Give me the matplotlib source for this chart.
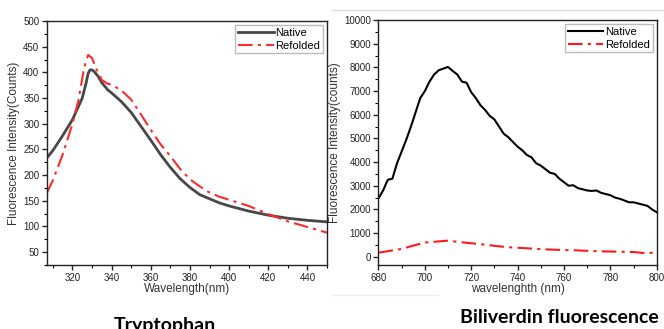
import matplotlib.pyplot as plt
from matplotlib.lines import Line2D
from matplotlib.ticker import MultipleLocator

plt.rcParams['font.family'] = ['Liberation Sans', 'DejaVu Sans']

# Tryptophan emission
trp_wl = [307, 310, 315, 320, 325, 327, 328, 329, 330, 331, 333, 335, 338, 340, 345, 350, 355,
          360, 365, 370, 375, 380, 385, 390, 395, 400, 410, 420, 430, 440, 450]
trp_native = [234, 248, 277, 308, 350, 380, 398, 405, 405, 402, 393, 380, 366, 360, 343, 322, 295,
              268, 240, 215, 193, 176, 162, 154, 146, 140, 130, 122, 116, 112, 109]
trp_wl_ref = [307, 310, 315, 320, 323, 326, 328, 330, 332, 335, 338, 340, 345, 350, 355,
              360, 365, 370, 375, 380, 385, 390, 395, 400, 410, 420, 430, 440, 450]
trp_refolded = [166, 190, 240, 300, 345, 410, 434, 428, 408, 385, 378, 376, 365, 347, 318,
                288, 260, 237, 212, 192, 178, 166, 158, 152, 140, 124, 110, 99, 88]

# Biliverdin emission
bv_wl = [680, 682, 684, 686, 688, 690, 692, 694, 696, 698, 700, 702, 704, 706, 708,
         710, 712, 714, 716, 718, 720, 722, 724, 726, 728, 730, 732, 734, 736, 738,
         740, 742, 744, 746, 748, 750, 752, 754, 756, 758, 760, 762, 764, 766, 768,
         770, 772, 774, 776, 778, 780, 782, 784, 786, 788, 790, 792, 794, 796, 798, 800]
bv_native = [2470, 2800, 3250, 3300, 3950, 4450, 4950, 5500, 6100, 6700, 7000, 7400, 7700, 7880, 7950,
             8020, 7850, 7700, 7400, 7350, 6950, 6700, 6400, 6200, 5950, 5800, 5500, 5200, 5050, 4850,
             4650, 4500, 4300, 4200, 3950, 3850, 3700, 3550, 3500, 3300, 3150, 3000, 3020, 2900, 2850,
             2800, 2780, 2800, 2700, 2650, 2600, 2500, 2450, 2380, 2300, 2300, 2250, 2200, 2150, 2000, 1880]
bv_wl_ref = [680, 685, 690, 695, 700, 705, 710, 715, 720, 725, 730, 735, 740, 745, 750,
             755, 760, 765, 770, 775, 780, 785, 790, 795, 800]
bv_refolded = [170, 250, 330, 470, 600, 640, 680, 620, 570, 520, 460, 410, 380, 350, 320,
               300, 280, 270, 250, 230, 220, 210, 200, 150, 180]

dashdot = (0, (7, 2.5, 1.5, 2.5))

fig = plt.figure(figsize=(6.64, 3.29), dpi=100)
ax1 = fig.add_axes([0.0708, 0.1945, 0.4217, 0.7415])
ax2 = fig.add_axes([0.570, 0.1945, 0.419, 0.7445])

ax1.plot(trp_wl, trp_native, color='#484848', lw=2.0, label='Native')
ax1.plot(trp_wl_ref, trp_refolded, color='#ff2a2a', lw=1.5, ls=dashdot, label='Refolded')
ax1.set_xlim(307, 450)
ax1.set_ylim(25, 500)
ax1.xaxis.set_major_locator(MultipleLocator(20))
ax1.xaxis.set_minor_locator(MultipleLocator(10))
ax1.set_yticks(range(50, 501, 50))
ax1.yaxis.set_minor_locator(MultipleLocator(25))
ax1.set_xlabel('Wavelength(nm)', fontsize=8.5, color='#333333', labelpad=0)
ax1.set_ylabel('Fluorescence Intensity(Counts)', fontsize=8.5, color='#333333', labelpad=2)

ax2.plot(bv_wl, bv_native, color='black', lw=1.5, label='Native')
ax2.plot(bv_wl_ref, bv_refolded, color='#ff1a1a', lw=1.5, ls=dashdot, label='Refolded')
ax2.set_xlim(680, 800)
ax2.set_ylim(-350, 10000)
ax2.xaxis.set_major_locator(MultipleLocator(20))
ax2.xaxis.set_minor_locator(MultipleLocator(10))
ax2.set_yticks(range(0, 10001, 1000))
ax2.yaxis.set_minor_locator(MultipleLocator(500))
ax2.set_xlabel('wavelenghth (nm)', fontsize=8.5, color='#333333', labelpad=0)
ax2.set_ylabel('Fluorescence Intensity(counts)', fontsize=8.5, color='#333333', labelpad=2)

for ax in (ax1, ax2):
    for s in ax.spines.values():
        s.set_linewidth(1.0)
        s.set_color('#222222')
    ax.tick_params(which='major', direction='out', length=3.5, width=1, labelsize=7,
                   pad=2, colors='#222222')
    ax.tick_params(which='minor', direction='out', length=2, width=0.8)
    ax.legend(loc='upper right', fontsize=8, frameon=True, fancybox=False,
              edgecolor='#bbbbbb', framealpha=1, handlelength=3.2, handletextpad=0.15,
              borderpad=0.25, labelspacing=0.25, borderaxespad=0.35)

fig.text(0.248, -0.015, 'Tryptophan', fontsize=14, fontweight='bold',
         family=['Lato', 'DejaVu Sans'], ha='center', va='bottom')
fig.text(0.842, 0.01, 'Biliverdin fluorescence', fontsize=14, fontweight='bold',
         family=['Lato', 'DejaVu Sans'], ha='center', va='bottom')

fig.add_artist(Line2D([0.5, 1.0], [0.97, 0.97], color='#dddddd', lw=1))
fig.add_artist(Line2D([0.5, 0.66], [0.103, 0.103], color='#eeeeee', lw=1))

fig.savefig('out.png', dpi=100)
